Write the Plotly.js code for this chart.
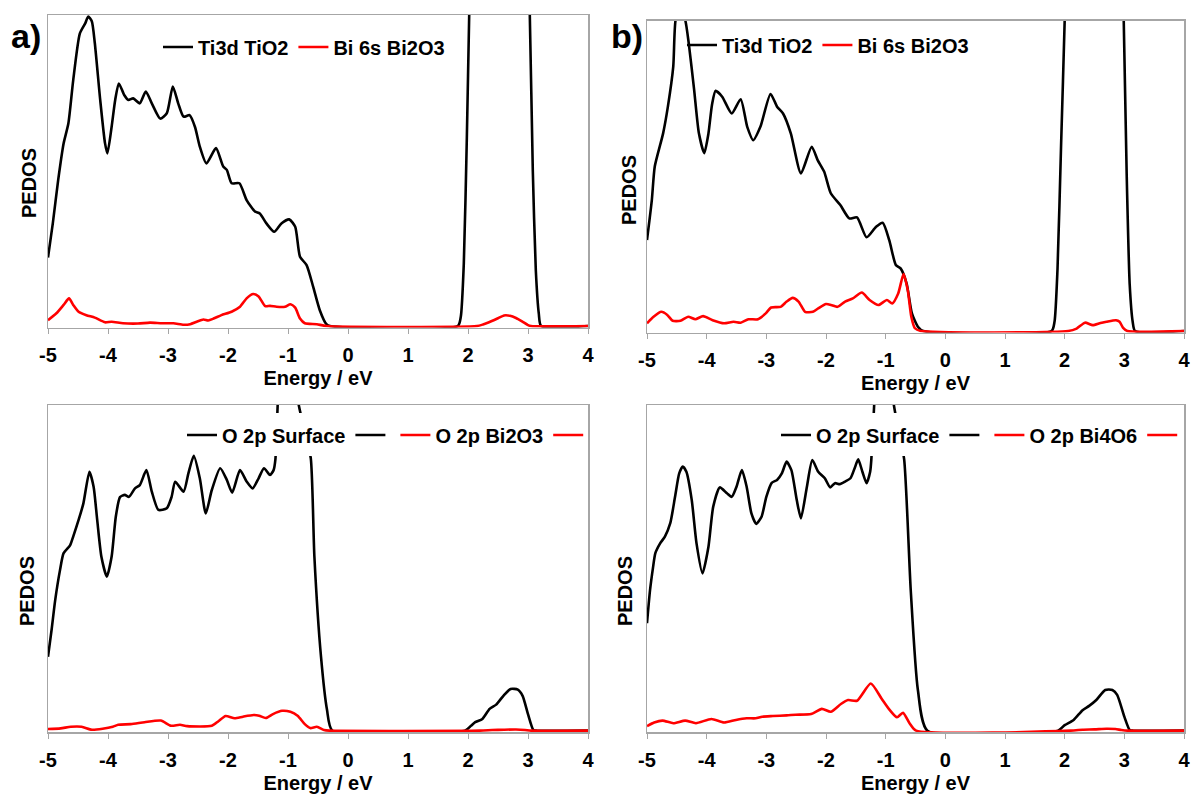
<!DOCTYPE html>
<html>
<head>
<meta charset="utf-8">
<script src="https://cdn.plot.ly/plotly-3.0.1.min.js"></script>
<style>html,body{margin:0;padding:0;background:#fff;overflow:hidden}#chart{width:1193px;height:800px;overflow:hidden}</style>
</head>
<body>
<div id="chart"></div>
<script>
// ---------- Data (Energy / eV, PEDOS in arbitrary units; axis top = 100) ----------
// Panel a
const E_a_ti = [-5.00,-4.92,-4.83,-4.74,-4.66,-4.58,-4.47,-4.38,-4.33,-4.27,-4.22,-4.13,-4.05,-4.01,-3.94,-3.88,-3.82,-3.73,-3.66,-3.58,-3.47,-3.37,-3.27,-3.13,-3.02,-2.92,-2.83,-2.74,-2.64,-2.55,-2.47,-2.36,-2.20,-2.08,-2.02,-1.94,-1.81,-1.69,-1.55,-1.47,-1.36,-1.23,-1.11,-0.98,-0.88,-0.80,-0.69,-0.58,-0.47,-0.36,-0.30,1.83,1.88,1.93,1.98,2.02,2.10,2.50,2.90,2.98,3.03,3.08,3.13,3.18,3.22,4.00];
const V_a_ti = [22,33,47,58.7,65.2,79,94,97.3,99.5,98,91,72.7,58.8,55.5,64,72.7,78,74.3,72.7,73.2,71.6,75.4,71.6,66.7,68.4,77,71.6,67.3,67.8,64,57.7,52.3,57.2,51.3,50.2,45.9,45.9,40.5,36.8,36.2,33,30.3,33,34.3,31.9,22.3,19.6,12.6,5.1,0.6,0,0,3,20,60,100,170,260,170,130,100,50,18,4,0,0];
const E_a_bi = [-5.00,-4.86,-4.74,-4.65,-4.58,-4.49,-4.36,-4.22,-4.05,-3.94,-3.75,-3.50,-3.30,-3.10,-2.91,-2.74,-2.63,-2.52,-2.41,-2.33,-2.24,-2.11,-1.94,-1.80,-1.69,-1.58,-1.49,-1.38,-1.30,-1.19,-1.05,-0.96,-0.88,-0.80,-0.72,-0.52,-0.36,2.15,2.25,2.35,2.50,2.60,2.70,2.80,2.90,3.00,3.05,4.00];
const V_a_bi = [1.9,4.1,6.8,8.9,6.8,4.6,3.5,2.7,1.2,1.4,0.9,0.8,1.1,0.9,0.9,0.4,0.6,1.4,2.1,1.8,2.4,3.5,4.6,6.2,8.9,10.3,9.5,6.4,6.5,6.2,6.2,7.0,5.9,2.4,0.9,0.6,0,0,0.5,1.2,2.5,3.4,3.3,2.6,1.5,0.3,0,0];
// Panel b
const E_b_ti = [-5.00,-4.92,-4.87,-4.73,-4.65,-4.56,-4.52,-4.44,-4.36,-4.30,-4.21,-4.13,-4.04,-3.97,-3.91,-3.85,-3.74,-3.58,-3.43,-3.32,-3.22,-3.10,-2.93,-2.82,-2.72,-2.59,-2.42,-2.24,-2.14,-2.03,-1.92,-1.76,-1.61,-1.48,-1.32,-1.16,-1.05,-0.94,-0.83,-0.75,-0.65,-0.56,-0.46,-0.37,1.78,1.83,1.88,1.94,2.00,2.08,2.50,2.88,2.95,2.99,3.04,3.09,3.14,3.18,4.00];
const V_b_ti = [29.3,42,53,63.7,72.3,85.2,100.3,104,100.3,92.7,77.7,63.7,57.3,63.7,73,77.4,75.5,70.1,74.7,65.8,61.5,65.8,76.4,72.3,70.1,63.7,50.8,59.4,55.1,51.3,44.4,40.6,36.3,36.6,30.2,33.6,34.9,29.3,21.3,20.2,15.4,5.7,1.4,0,0,3,20,60,100,170,260,170,130,100,50,15,3,0,0];
const E_b_bi = [-5.00,-4.89,-4.76,-4.66,-4.57,-4.44,-4.31,-4.19,-4.06,-3.90,-3.71,-3.55,-3.43,-3.30,-3.14,-3.01,-2.92,-2.76,-2.66,-2.56,-2.46,-2.35,-2.22,-2.13,-2.00,-1.90,-1.81,-1.68,-1.55,-1.40,-1.27,-1.12,-0.98,-0.89,-0.79,-0.70,-0.63,-0.57,-0.51,-0.41,2.06,2.20,2.34,2.47,2.60,2.70,2.86,2.92,2.98,3.05,4.00];
const V_b_bi = [2.5,4.6,6.2,5.2,3.3,3.3,4.6,3.8,4.8,3.5,2.5,3.0,2.7,3.8,3.8,5.7,7.6,7.8,9.5,10.7,9.5,6.2,6.2,7.3,8.7,8.3,7.8,9.5,10.5,12.4,10.0,8.4,10.0,8.9,12.1,18.4,13.2,4.6,0.9,0,0,0.8,2.7,1.9,2.6,3.0,3.5,3.0,1.0,0,0];
// Panel c
const E_c_o = [-5.00,-4.94,-4.88,-4.80,-4.74,-4.63,-4.58,-4.49,-4.41,-4.31,-4.24,-4.18,-4.11,-4.02,-3.94,-3.87,-3.80,-3.72,-3.65,-3.55,-3.47,-3.36,-3.27,-3.16,-3.02,-2.94,-2.88,-2.74,-2.66,-2.57,-2.47,-2.37,-2.27,-2.13,-2.02,-1.93,-1.80,-1.69,-1.59,-1.49,-1.40,-1.30,-1.24,-1.21,-1.17,-1.10,-1.00,-0.90,-0.83,-0.72,-0.62,-0.56,-0.45,-0.35,-0.26,1.95,2.05,2.12,2.24,2.36,2.47,2.59,2.71,2.83,2.91,3.00,3.09,3.15,4.00];
const V_c_o = [22.7,31,40.1,49.3,54.5,57,59.6,64.7,69.8,79.5,74.9,64.7,53.4,47.3,53.4,65.7,71.7,72.4,71.8,74.4,75.4,80,73.4,67.8,68.3,71.8,76.4,73.4,79,84.4,77.5,66.7,73.9,80.6,77,73.1,80,76.5,74.4,77.5,80.6,78.5,80,83.3,101,130,145,130,101,92,83.6,53.4,22.7,6.4,0,0,1.5,2.6,3.6,6.7,8.0,10.7,12.8,12.6,10.7,5.1,0.2,0,0];
const E_c_bi = [-5.00,-4.79,-4.62,-4.44,-4.27,-4.09,-3.92,-3.83,-3.62,-3.39,-3.12,-2.95,-2.80,-2.68,-2.27,-2.16,-2.04,-1.89,-1.75,-1.57,-1.48,-1.37,-1.25,-1.10,-0.96,-0.84,-0.72,-0.63,-0.52,-0.40,-0.31,2.20,2.40,2.60,2.80,2.95,3.05,4.00];
const V_c_bi = [0.5,0.7,1.2,1.2,0.3,0.6,1.2,1.8,2.0,2.6,3.1,1.5,1.8,1.4,1.5,2.9,4.5,3.8,4.3,4.8,4.6,3.9,5.1,6.1,5.8,4.6,2.0,0.8,1.2,0.2,0,0,0.2,0.3,0.35,0.2,0,0];
// Panel d
const E_d_o = [-5.00,-4.95,-4.90,-4.86,-4.78,-4.70,-4.61,-4.53,-4.46,-4.40,-4.34,-4.25,-4.17,-4.07,-3.97,-3.89,-3.78,-3.66,-3.58,-3.50,-3.41,-3.33,-3.25,-3.17,-3.08,-3.00,-2.91,-2.82,-2.74,-2.66,-2.58,-2.49,-2.42,-2.32,-2.23,-2.13,-2.02,-1.93,-1.85,-1.77,-1.68,-1.59,-1.52,-1.46,-1.39,-1.32,-1.26,-1.24,-1.19,-1.10,-1.00,-0.92,-0.87,-0.78,-0.69,-0.58,-0.46,-0.30,1.89,2.00,2.15,2.30,2.41,2.53,2.68,2.80,2.88,3.00,3.09,3.15,4.00];
const V_d_o = [33,43,50,54.5,57.5,59.6,63.7,71.8,79,81.1,79.5,70.8,57.5,48.3,56.5,68.8,74.7,72.9,71.8,74.9,80,74.9,66.7,63.5,65.7,71.8,76.1,77,79,82.6,80,70.8,65.2,74.9,83.1,79.5,77.5,74.7,76,75.7,76.5,77.5,80.6,83.3,79.5,76,79.5,83.3,101,130,145,130,101,92,83.3,43.2,12.5,0,0,1.7,3.3,6.3,7.6,9.4,12.5,12.5,11,4.3,0.2,0,0];
const E_d_bi = [-5.00,-4.88,-4.74,-4.56,-4.36,-4.18,-3.92,-3.71,-3.51,-3.33,-3.18,-3.07,-2.89,-2.66,-2.51,-2.25,-2.07,-1.92,-1.75,-1.63,-1.48,-1.25,-1.07,-0.93,-0.81,-0.71,-0.60,-0.49,2.10,2.30,2.50,2.70,2.85,2.95,3.05,4.00];
const V_d_bi = [1.4,2.5,3.1,2.3,3.1,2.3,3.6,2.5,3.3,3.8,3.8,4.3,4.5,4.7,4.9,5.1,6.7,5.8,8.2,9.4,9.2,14.5,9.9,6.3,4.1,5.5,2.3,0,0,0.3,0.4,0.6,0.5,0.2,0,0];

// Tick labels
const tickVals = [-5,-4,-3,-2,-1,0,1,2,3,4];
const tickText = ['-5','-4','-3','-2','-1','0','1','2','3','4'];
// Legend names
const namesTop = ['Ti3d TiO2','Bi 6s Bi2O3'];
const namesC = ['O 2p Surface','O 2p Bi2O3'];
const namesD = ['O 2p Surface','O 2p Bi4O6'];
const panelLabels = ['a)','b)'];
const yTitle = 'PEDOS';
const xTitle = 'Energy / eV';

// ---------- Layout helpers ----------
const W = 1193, H = 800;
const FONT = 'Liberation Sans, Arial, sans-serif';
const fx = p => p / W;
const fy = p => 1 - p / H;
const BLACK = '#000000', RED = '#ff0000', FRAME = '#a6a6a6';

function line(x, y, color, xa, ya, name, leg) {
  return {x, y, xaxis: xa, yaxis: ya, name, legend: leg, type: 'scatter', mode: 'lines',
          line: {color, width: 2.6, shape: 'spline', smoothing: 0.6}, hoverinfo: 'skip'};
}
function ghost(color, xa, ya, leg) {
  return {x: [null], y: [null], xaxis: xa, yaxis: ya, name: '', legend: leg, type: 'scatter',
          mode: 'lines', line: {color, width: 2.6}, hoverinfo: 'skip'};
}

const traces = [
  line(E_a_ti, V_a_ti, BLACK, 'x', 'y', namesTop[0], 'legend'),
  line(E_a_bi, V_a_bi, RED, 'x', 'y', namesTop[1], 'legend'),
  line(E_b_ti, V_b_ti, BLACK, 'x2', 'y2', namesTop[0], 'legend2'),
  line(E_b_bi, V_b_bi, RED, 'x2', 'y2', namesTop[1], 'legend2'),
  line(E_c_o, V_c_o, BLACK, 'x3', 'y3', namesC[0], 'legend3'),
  ghost(BLACK, 'x3', 'y3', 'legend3'),
  line(E_c_bi, V_c_bi, RED, 'x3', 'y3', namesC[1], 'legend3'),
  ghost(RED, 'x3', 'y3', 'legend3'),
  line(E_d_o, V_d_o, BLACK, 'x4', 'y4', namesD[0], 'legend4'),
  ghost(BLACK, 'x4', 'y4', 'legend4'),
  line(E_d_bi, V_d_bi, RED, 'x4', 'y4', namesD[1], 'legend4'),
  ghost(RED, 'x4', 'y4', 'legend4')
];

const boldFont = (size) => ({family: FONT, size, color: '#000', weight: 'bold'});

function xAxis(left, right, anchor) {
  return {
    domain: [fx(left), fx(right)], anchor, range: [-5, 4],
    tickmode: 'array', tickvals: tickVals, ticktext: tickText,
    ticks: 'outside', ticklen: 5, tickwidth: 1, tickcolor: FRAME,
    tickfont: boldFont(20), ticklabelstandoff: 4,
    showline: true, mirror: true, linecolor: FRAME, linewidth: 1.5,
    showgrid: false, zeroline: false, automargin: false, fixedrange: true,
    title: {text: xTitle, font: boldFont(20), standoff: 6}
  };
}
function yAxis(top, bottom, anchor) {
  return {
    domain: [fy(bottom), fy(top)], anchor, range: [-0.5, 100],
    showticklabels: false, ticks: '', showgrid: false, zeroline: false,
    showline: true, mirror: true, linecolor: FRAME, linewidth: 1.5,
    automargin: false, fixedrange: true
  };
}
function legendAt(xpx, ypx) {
  return {x: fx(xpx), y: fy(ypx), xanchor: 'left', yanchor: 'middle', orientation: 'h',
          font: boldFont(20), bgcolor: 'rgba(0,0,0,0)', borderwidth: 0,
          itemwidth: 30, tracegroupgap: 0, traceorder: 'normal'};
}

const layout = {
  width: W, height: H,
  margin: {l: 0, r: 0, t: 0, b: 0},
  paper_bgcolor: '#fff', plot_bgcolor: '#fff',
  showlegend: true,
  xaxis: xAxis(48, 588, 'y'),
  yaxis: yAxis(15, 327.6, 'x'),
  xaxis2: xAxis(647, 1184, 'y2'),
  yaxis2: yAxis(20.7, 332.6, 'x2'),
  xaxis3: xAxis(48, 588, 'y3'),
  yaxis3: yAxis(405, 732.3, 'x3'),
  xaxis4: xAxis(647, 1184, 'y4'),
  yaxis4: yAxis(405, 732.3, 'x4'),
  legend: legendAt(158, 47),
  legend2: legendAt(682, 45),
  legend3: legendAt(182, 435),
  legend4: legendAt(776, 435),
  shapes: [
    {type: 'rect', xref: 'paper', yref: 'paper', x0: fx(222), x1: fx(578), y0: fy(456), y1: fy(413),
     fillcolor: '#fff', line: {width: 0}, layer: 'above'},
    {type: 'rect', xref: 'paper', yref: 'paper', x0: fx(820), x1: fx(1174), y0: fy(456), y1: fy(413),
     fillcolor: '#fff', line: {width: 0}, layer: 'above'}
  ],
  annotations: [
    {text: panelLabels[0], xref: 'paper', yref: 'paper', x: fx(26), y: fy(36), showarrow: false,
     font: boldFont(34), xanchor: 'center', yanchor: 'middle'},
    {text: panelLabels[1], xref: 'paper', yref: 'paper', x: fx(627), y: fy(36), showarrow: false,
     font: boldFont(34), xanchor: 'center', yanchor: 'middle'},
    {text: yTitle, xref: 'paper', yref: 'paper', x: fx(29), y: fy(183), textangle: -90, showarrow: false,
     font: boldFont(20), xanchor: 'center', yanchor: 'middle'},
    {text: yTitle, xref: 'paper', yref: 'paper', x: fx(629), y: fy(190), textangle: -90, showarrow: false,
     font: boldFont(20), xanchor: 'center', yanchor: 'middle'},
    {text: yTitle, xref: 'paper', yref: 'paper', x: fx(27), y: fy(591), textangle: -90, showarrow: false,
     font: boldFont(20), xanchor: 'center', yanchor: 'middle'},
    {text: yTitle, xref: 'paper', yref: 'paper', x: fx(625), y: fy(591), textangle: -90, showarrow: false,
     font: boldFont(20), xanchor: 'center', yanchor: 'middle'}
  ]
};

Plotly.newPlot('chart', traces, layout, {displayModeBar: false, staticPlot: true});
</script>
</body>
</html>
